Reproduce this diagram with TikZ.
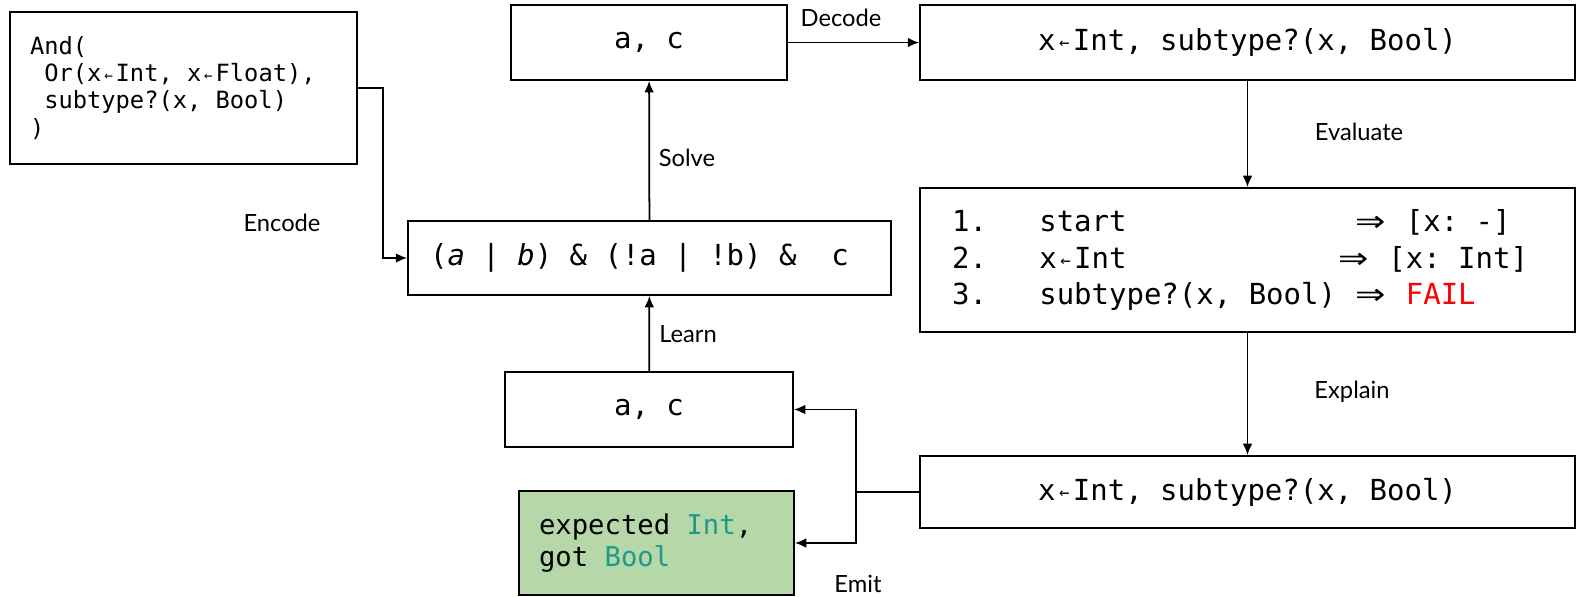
\documentclass[tikz,border=0pt]{standalone}
\usepackage{fontspec}
\usetikzlibrary{arrows.meta}
\setmonofont{DejaVu Sans Mono}
\newfontfamily\lato{Lato}
\newfontfamily\dejavu{DejaVu Sans}
\definecolor{emitgreen}{HTML}{B6D7A8}
\definecolor{tyteal}{HTML}{1E9A8A}
\definecolor{failred}{HTML}{FF0000}
\newcommand\larr{\makebox[0.602em]{\raisebox{0.06em}{\scalebox{0.6}{←}}}}
\newcommand\rarr{\makebox[1.204em]{\scalebox{1.25}[1]{\dejavu ⇒}}}
\newcommand\ind{\hphantom{a}}
\newcommand\fixsp{\spaceskip=0pt\xspaceskip=0pt\relax}
\frenchspacing

\begin{document}
\begin{tikzpicture}[x=0.02cm, y=-0.02cm, line width=1pt, >={Latex[length=6.5pt,width=5.5pt]},
  box/.style={draw, rectangle, inner sep=0pt, font=\ttfamily\fontsize{16.5}{20.5}\selectfont},
  lbl/.style={font=\lato\fontsize{13.5}{16}\selectfont}]
\useasboundingbox (0,0) rectangle (1578,596);
\node  (in)[box, align=left, text width=6.14cm, inner xsep=0.4cm, minimum height=3.04cm,
        font=\ttfamily\fontsize{13.5}{15.4}\selectfont] at (183.5,88)
       {\fixsp And(\\ \ind Or(x\larr Int, x\larr Float),\\ \ind subtype?(x, Bool)\\ )};
\node  (form)[box, align=left, text width=8.78cm, inner xsep=0.44cm, minimum height=1.48cm] at (649.5,258)
       {\fixsp (\textit{a} | \textit{b}) \& (!a | !b) \&~~c};
\node  (sat)[box, minimum width=5.52cm, minimum height=1.5cm] at (649,42.5) {a, c};
\node  (dec)[box, minimum width=13.1cm, minimum height=1.5cm] at (1247.5,42.5)
       {x\larr Int, subtype?(x, Bool)};
\node  (eval)[box, align=left, text width=11.82cm, inner xsep=0.64cm, minimum height=2.88cm] at (1247.5,260)
       {\fixsp 1.~~~start~~~~~~~~~~~~~\rarr{} [x: -]\\
        2.~~~x\larr Int~~~~~~~~~~~~\rarr{} [x: Int]\\
        3.~~~subtype?(x, Bool) \rarr{} \textcolor{failred}{FAIL}};
\node  (core)[box, minimum width=5.76cm, minimum height=1.5cm] at (649,409.5) {a, c};
\node  (err)[box, fill=emitgreen, align=left, text width=4.7cm, inner xsep=0.4cm, minimum height=2.08cm,
        font=\ttfamily\fontsize{15.5}{18.2}\selectfont] at (656.5,543)
       {\fixsp expected \textcolor{tyteal}{Int},\\ got \textcolor{tyteal}{Bool}};
\node  (expl)[box, minimum width=13.1cm, minimum height=1.44cm] at (1247.5,492)
       {x\larr Int, subtype?(x, Bool)};
\coordinate (j) at (856,492);
% connectors
\draw[->] (in.east) -- ++(25,0) |- (form.west);
\path[->] (form) edge (sat)
          (core) edge (form)
          (sat)  edge (dec)
          (dec)  edge (eval)
          (eval) edge (expl);
\draw (expl.west) -- (j);
\draw[->] (j) |- (core.east);
\draw[->] (j) |- (err.east);
% labels
\node (l1)[lbl] at (282,223) {Encode};
\node (l2)[lbl] at (687,158) {Solve};
\node (l3)[lbl] at (688,334) {Learn};
\node (l4)[lbl] at (841,18) {Decode};
\node (l5)[lbl] at (1359,132) {Evaluate};
\node (l6)[lbl] at (1352,392) {Explain};
\node (l7)[lbl] at (858,584) {Emit};
\end{tikzpicture}
\end{document}
